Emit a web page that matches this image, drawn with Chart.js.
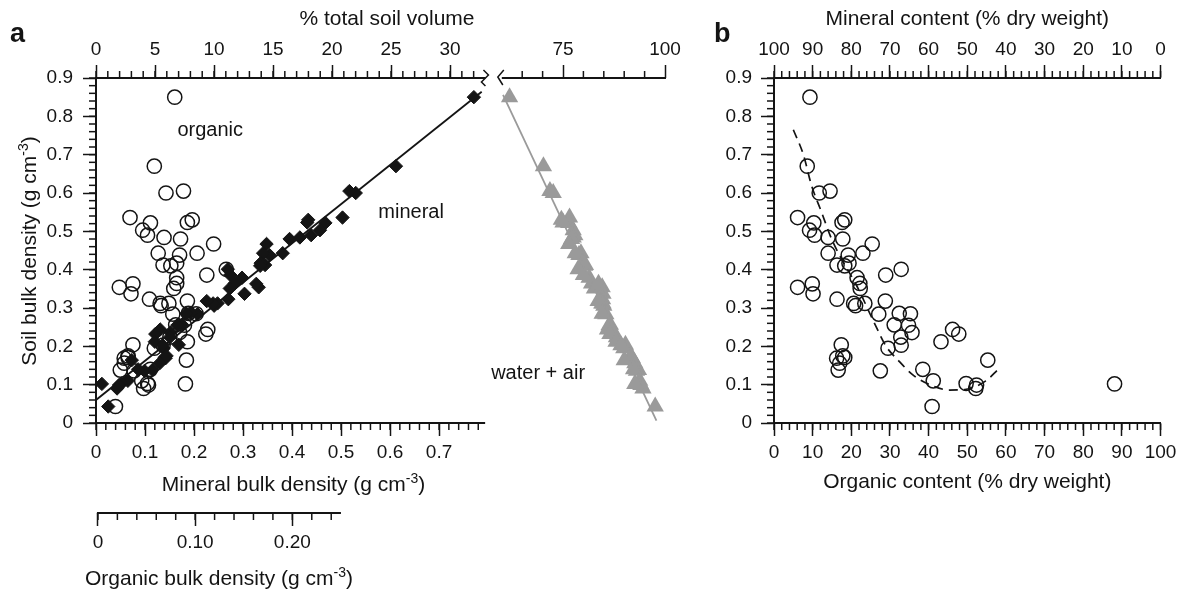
<!DOCTYPE html>
<html>
<head>
<meta charset="utf-8">
<script src="https://cdn.jsdelivr.net/npm/chart.js@4.4.1/dist/chart.umd.min.js"></script>
<style>
  html, body { margin: 0; padding: 0; background: #fff; }
  #wrap { position: relative; width: 1182px; height: 591px; overflow: hidden; }
  canvas { position: absolute; top: 0; }
  #chartA { left: 0; }
  #chartB { left: 700px; }
</style>
</head>
<body>
<div id="wrap">
  <canvas id="chartA" width="700" height="591"></canvas>
  <canvas id="chartB" width="482" height="591"></canvas>
</div>
<script>
// --- tick labels ---
const yTicks = [0, 0.1, 0.2, 0.3, 0.4, 0.5, 0.6, 0.7, 0.8, 0.9];
const mineralBdTicks = [0, 0.1, 0.2, 0.3, 0.4, 0.5, 0.6, 0.7];
const soilVolTicks = [0, 5, 10, 15, 20, 25, 30];
const waterAirTicks = [75, 100];
const organicBdTicks = [0, 0.1, 0.2];
const organicBdTickLabels = ['0', '0.10', '0.20'];
const organicPctTicks = [0, 10, 20, 30, 40, 50, 60, 70, 80, 90, 100];
const mineralPctTicks = [0, 10, 20, 30, 40, 50, 60, 70, 80, 90, 100];

// --- samples, panel b: organic content (% dry weight) vs soil bulk density ---
const organicPct = [9.3, 8.6, 11.7, 14.5, 6.1, 10.3, 9.2, 10.5, 14.0, 17.6,
  18.3, 17.8, 25.4, 14.0, 16.3, 19.2, 23.0, 19.4, 18.3, 21.5,
  22.2, 22.3, 28.9, 32.9, 6.1, 9.9, 10.1, 16.3, 20.6, 21.1,
  23.5, 28.8, 27.1, 32.4, 35.3, 31.1, 34.8, 35.7, 32.8, 46.2,
  47.8, 43.2, 17.4, 29.5, 16.2, 18.3, 17.0, 16.6, 17.8, 27.5,
  32.9, 38.5, 41.2, 40.9, 49.7, 52.4, 52.2, 55.3, 88.1];
const soilBd = [0.85, 0.67, 0.60, 0.605, 0.536, 0.522, 0.503, 0.49, 0.484, 0.523,
  0.53, 0.48, 0.467, 0.443, 0.412, 0.438, 0.443, 0.417, 0.41, 0.379,
  0.364, 0.351, 0.386, 0.401, 0.354, 0.363, 0.337, 0.323, 0.312, 0.306,
  0.312, 0.318, 0.284, 0.286, 0.285, 0.256, 0.255, 0.236, 0.224, 0.244,
  0.232, 0.212, 0.204, 0.195, 0.169, 0.171, 0.156, 0.138, 0.175, 0.136,
  0.203, 0.14, 0.11, 0.043, 0.103, 0.099, 0.09, 0.164, 0.102];

// --- panel a: organic / mineral bulk density and water + air volume per sample ---
const organicBd = [0.079, 0.058, 0.070, 0.088, 0.033, 0.054, 0.046, 0.051, 0.068, 0.092,
  0.097, 0.085, 0.119, 0.062, 0.067, 0.084, 0.102, 0.081, 0.075, 0.081,
  0.081, 0.078, 0.112, 0.132, 0.022, 0.036, 0.034, 0.053, 0.064, 0.065,
  0.073, 0.092, 0.077, 0.093, 0.101, 0.080, 0.089, 0.084, 0.074, 0.113,
  0.111, 0.092, 0.036, 0.058, 0.027, 0.031, 0.027, 0.023, 0.031, 0.037,
  0.067, 0.054, 0.045, 0.018, 0.051, 0.052, 0.047, 0.091, 0.090];
const mineralBd = [0.771, 0.612, 0.530, 0.517, 0.503, 0.468, 0.457, 0.439, 0.416, 0.431,
  0.433, 0.395, 0.348, 0.381, 0.345, 0.354, 0.341, 0.336, 0.335, 0.298,
  0.283, 0.273, 0.274, 0.269, 0.332, 0.327, 0.303, 0.270, 0.248, 0.241,
  0.239, 0.226, 0.207, 0.193, 0.184, 0.176, 0.166, 0.152, 0.151, 0.131,
  0.121, 0.120, 0.169, 0.138, 0.142, 0.140, 0.130, 0.115, 0.144, 0.099,
  0.136, 0.086, 0.065, 0.025, 0.052, 0.047, 0.043, 0.073, 0.012];
const waterAirPct = [61.9, 70.2, 72.6, 71.8, 76.6, 76.4, 77.5, 77.9, 77.5, 75.0,
  74.6, 77.1, 76.4, 79.4, 80.5, 78.9, 78.0, 79.8, 80.3, 81.4,
  82.0, 82.7, 80.0, 78.7, 84.6, 83.7, 84.8, 84.7, 84.8, 85.0,
  84.5, 83.6, 85.5, 84.9, 84.6, 86.6, 86.3, 87.2, 88.1, 85.9,
  86.5, 88.0, 90.3, 89.9, 92.0, 91.8, 92.6, 93.5, 91.6, 93.0,
  89.2, 92.3, 93.8, 97.6, 93.9, 94.1, 94.6, 90.0, 92.6];

// fitted lines
const mineralFitX = [0, 0.787];
const mineralFitY = [0.06, 0.864];
const waterFitX = [60.3, 97.9];
const waterFitY = [0.856, 0.006];
const curvePct = [5, 7.6, 9.7, 12.3, 14.9, 17.9, 21.3, 26, 29, 32, 36, 41, 45.4, 49.7, 54.8, 58];
const curveBd = [0.765, 0.70, 0.62, 0.55, 0.48, 0.42, 0.36, 0.26, 0.20, 0.165, 0.125, 0.097, 0.086, 0.088, 0.11, 0.14];

// --- look ---
const ink = '#141414';
const grey = '#9a9a9a';
const fam = "'Liberation Sans', Arial, Helvetica, sans-serif";
Chart.defaults.font.family = fam;
Chart.defaults.color = ink;
Chart.defaults.animation = false;

const pairs = (xs, ys) => xs.map((v, i) => ({ x: v, y: ys[i] }));
const fixed = list => s => { s.ticks = list.map(v => ({ value: v })); };
const steps = (a, b, st) => { const out = []; for (let v = a; v <= b + 1e-9; v += st) out.push(+v.toFixed(4)); return out; };

function axis(opts) {
  const base = {
    type: 'linear',
    grid: { drawOnChartArea: false, tickLength: 13, tickWidth: 1.5, tickColor: ink, color: ink },
    border: { display: false }
  };
  const out = Object.assign(base, opts);
  out.ticks = Object.assign({ color: ink, font: { size: 19 }, maxRotation: 0, autoSkip: false, padding: 5.6 }, opts.ticks || {});
  return out;
}

function seg(ctx, x1, y1, x2, y2) {
  ctx.beginPath(); ctx.moveTo(x1, y1); ctx.lineTo(x2, y2); ctx.stroke();
}
function minorH(ctx, scale, values, edge, dir) {
  values.forEach(v => { const p = scale.getPixelForValue(v); seg(ctx, p, edge, p, edge + dir * 7); });
}
function minorV(ctx, scale, values, edge) {
  values.forEach(v => { const p = scale.getPixelForValue(v); seg(ctx, edge - 7, p, edge, p); });
}
// text with a superscript part, centred on (cx, cy)
function supText(ctx, main, sup, tail, cx, cy, rot) {
  ctx.save();
  ctx.translate(cx, cy);
  if (rot) ctx.rotate(rot);
  ctx.font = '21px ' + fam;
  const w1 = ctx.measureText(main).width, w3 = ctx.measureText(tail).width;
  ctx.font = '14px ' + fam;
  const w2 = ctx.measureText(sup).width;
  let sx = -(w1 + w2 + w3) / 2;
  ctx.textAlign = 'left'; ctx.textBaseline = 'alphabetic';
  ctx.font = '21px ' + fam; ctx.fillText(main, sx, 7.5); sx += w1;
  ctx.font = '14px ' + fam; ctx.fillText(sup, sx, -0.5); sx += w2;
  ctx.font = '21px ' + fam; ctx.fillText(tail, sx, 7.5);
  ctx.restore();
}

const circleStyle = { pointStyle: 'circle', pointRadius: 7.1, pointBorderWidth: 1.5, borderColor: ink, backgroundColor: 'rgba(0,0,0,0)' };

// --- panel a ---
const panelAPlugin = {
  id: 'panelA',
  afterDraw(chart) {
    const { ctx, chartArea: ca } = chart;
    const { x, y, xt, xw, xo } = chart.scales;
    ctx.save();
    ctx.strokeStyle = ink; ctx.fillStyle = ink; ctx.lineCap = 'butt';
    ctx.lineWidth = 2;
    seg(ctx, ca.left, ca.top - 1, ca.left, ca.bottom + 1);
    seg(ctx, ca.left, ca.bottom, x.getPixelForValue(0.794), ca.bottom);
    const brkL = xt.getPixelForValue(33.0), brkR = xw.getPixelForValue(60);
    seg(ctx, ca.left, ca.top, brkL, ca.top);
    seg(ctx, brkR, ca.top, xw.getPixelForValue(100) + 1, ca.top);
    seg(ctx, xo.getPixelForValue(0) - 1, xo.top, xo.getPixelForValue(0.25), xo.top);
    // axis break marks
    ctx.lineWidth = 1.5;
    ctx.beginPath();
    ctx.moveTo(brkL - 2, ca.top - 8); ctx.lineTo(brkL + 3, ca.top - 3);
    ctx.lineTo(brkL - 4, ca.top + 4); ctx.lineTo(brkL, ca.top + 8);
    ctx.stroke();
    ctx.beginPath();
    ctx.moveTo(brkR + 2, ca.top - 8); ctx.lineTo(brkR - 4, ca.top - 1);
    ctx.lineTo(brkR + 1, ca.top + 7);
    ctx.stroke();
    // minor ticks
    minorV(ctx, y, steps(0, 0.9, 0.02), ca.left);
    minorH(ctx, x, steps(0, 0.78, 0.02), ca.bottom, 1);
    minorH(ctx, xt, steps(0, 32, 1), ca.top, -1);
    minorH(ctx, xw, [65, 70, 80, 85, 90, 95], ca.top, -1);
    minorH(ctx, xo, steps(0, 0.24, 0.02), xo.top, 1);
    // labels inside the plot
    ctx.font = '20px ' + fam; ctx.textAlign = 'center'; ctx.textBaseline = 'middle';
    ctx.fillText('organic', x.getPixelForValue(0.233), y.getPixelForValue(0.764));
    ctx.fillText('mineral', x.getPixelForValue(0.643), y.getPixelForValue(0.55));
    ctx.fillText('water + air', xw.getPixelForValue(68.9), y.getPixelForValue(0.13));
    // axis titles
    ctx.font = '21px ' + fam;
    ctx.fillText('% total soil volume', 387, 19);
    supText(ctx, 'Soil bulk density (g cm', '-3', ')', 28, 251, -Math.PI / 2);
    supText(ctx, 'Mineral bulk density (g cm', '-3', ')', 293.5, 483, 0);
    supText(ctx, 'Organic bulk density (g cm', '-3', ')', 219, 577, 0);
    ctx.font = 'bold 27px ' + fam; ctx.textAlign = 'left'; ctx.textBaseline = 'alphabetic';
    ctx.fillText('a', 10, 41.5);
    ctx.restore();
  }
};

new Chart(document.getElementById('chartA'), {
  type: 'scatter',
  data: {
    datasets: [
      { data: pairs(mineralBd, soilBd), xAxisID: 'x', yAxisID: 'y', pointStyle: 'rectRot', pointRadius: 6.7,
        pointBorderWidth: 1, borderColor: ink, backgroundColor: ink },
      { data: pairs(mineralFitX, mineralFitY), xAxisID: 'x', yAxisID: 'y', showLine: true, pointRadius: 0,
        borderColor: ink, borderWidth: 1.8 },
      Object.assign({ data: pairs(organicBd, soilBd), xAxisID: 'xo', yAxisID: 'y' }, circleStyle),
      { data: pairs(waterAirPct, soilBd), xAxisID: 'xw', yAxisID: 'y', pointStyle: 'triangle', pointRadius: 10,
        pointBorderWidth: 0, borderColor: grey, backgroundColor: grey },
      { data: pairs(waterFitX, waterFitY), xAxisID: 'xw', yAxisID: 'y', showLine: true, pointRadius: 0,
        borderColor: grey, borderWidth: 1.8 }
    ]
  },
  options: {
    responsive: false,
    layout: { padding: { top: 30, left: 0, right: 35, bottom: 0 } },
    plugins: { legend: { display: false }, tooltip: { enabled: false } },
    scales: {
      y: axis({ min: 0, max: 0.9, position: 'left', afterBuildTicks: fixed(yTicks),
        afterFit: s => { s.width = 96; }, ticks: { padding: 10, callback: v => String(v) } }),
      // top boxes are laid out in reverse order, so the right-hand part comes first
      xw: axis({ min: 57.84, max: 100, position: 'top', stack: 'top', stackWeight: 172,
        afterBuildTicks: fixed(waterAirTicks), afterFit: s => { s.height = 48; },
        ticks: { padding: 3.6, callback: v => String(v) } }),
      xt: axis({ min: 0, max: 33.64, position: 'top', stack: 'top', stackWeight: 397,
        afterBuildTicks: fixed(soilVolTicks), afterFit: s => { s.height = 48; },
        ticks: { padding: 3.6, callback: v => String(v) } }),
      x: axis({ min: 0, max: 1.161, position: 'bottom', afterBuildTicks: fixed(mineralBdTicks),
        afterFit: s => { s.height = 90; }, ticks: { callback: v => String(v) } }),
      xo: axis({ min: -0.002, max: 0.5834, position: 'bottom', afterBuildTicks: fixed(organicBdTicks),
        afterFit: s => { s.height = 78; }, ticks: { callback: (v, i) => organicBdTickLabels[i] } })
    }
  },
  plugins: [panelAPlugin]
});

// --- panel b ---
const panelBPlugin = {
  id: 'panelB',
  afterDraw(chart) {
    const { ctx, chartArea: ca } = chart;
    const { x, y, xt } = chart.scales;
    ctx.save();
    ctx.strokeStyle = ink; ctx.fillStyle = ink; ctx.lineWidth = 1.5;
    minorV(ctx, y, steps(0, 0.9, 0.02), ca.left);
    minorH(ctx, x, steps(0, 100, 2), ca.bottom, 1);
    minorH(ctx, xt, steps(0, 100, 2), ca.top, -1);
    ctx.font = 'bold 27px ' + fam; ctx.textAlign = 'left'; ctx.textBaseline = 'alphabetic';
    ctx.fillText('b', 14, 41.5);
    ctx.restore();
  }
};

const borderOn = { display: true, width: 2, color: ink };
new Chart(document.getElementById('chartB'), {
  type: 'scatter',
  data: {
    datasets: [
      Object.assign({ data: pairs(organicPct, soilBd), xAxisID: 'x', yAxisID: 'y' }, circleStyle),
      { data: pairs(curvePct, curveBd), xAxisID: 'x', yAxisID: 'y', showLine: true, pointRadius: 0,
        borderColor: ink, borderWidth: 1.7, borderDash: [9, 6], cubicInterpolationMode: 'monotone' }
    ]
  },
  options: {
    responsive: false,
    layout: { padding: { top: 0, left: 0, right: 20, bottom: 95.7 } },
    plugins: { legend: { display: false }, tooltip: { enabled: false } },
    scales: {
      y: axis({ min: 0, max: 0.9, position: 'left', border: borderOn, afterBuildTicks: fixed(yTicks),
        afterFit: s => { s.width = 74; }, ticks: { padding: 9, callback: v => String(v) } }),
      x: axis({ min: 0, max: 100, position: 'bottom', border: borderOn,
        afterBuildTicks: fixed(organicPctTicks), afterFit: s => { s.height = 72.3; },
        ticks: { callback: v => String(v) },
        title: { display: true, text: 'Organic content (% dry weight)', color: ink,
          font: { size: 21 }, padding: { top: 0, bottom: 0 } } }),
      xt: axis({ min: 0, max: 100, reverse: true, position: 'top', border: borderOn,
        afterBuildTicks: fixed(mineralPctTicks), afterFit: s => { s.height = 78; },
        ticks: { padding: 3.6, callback: v => String(v) },
        title: { display: true, text: 'Mineral content (% dry weight)', color: ink,
          font: { size: 21 }, padding: { top: 6.4, bottom: 0 } } })
    }
  },
  plugins: [panelBPlugin]
});
</script>
</body>
</html>
